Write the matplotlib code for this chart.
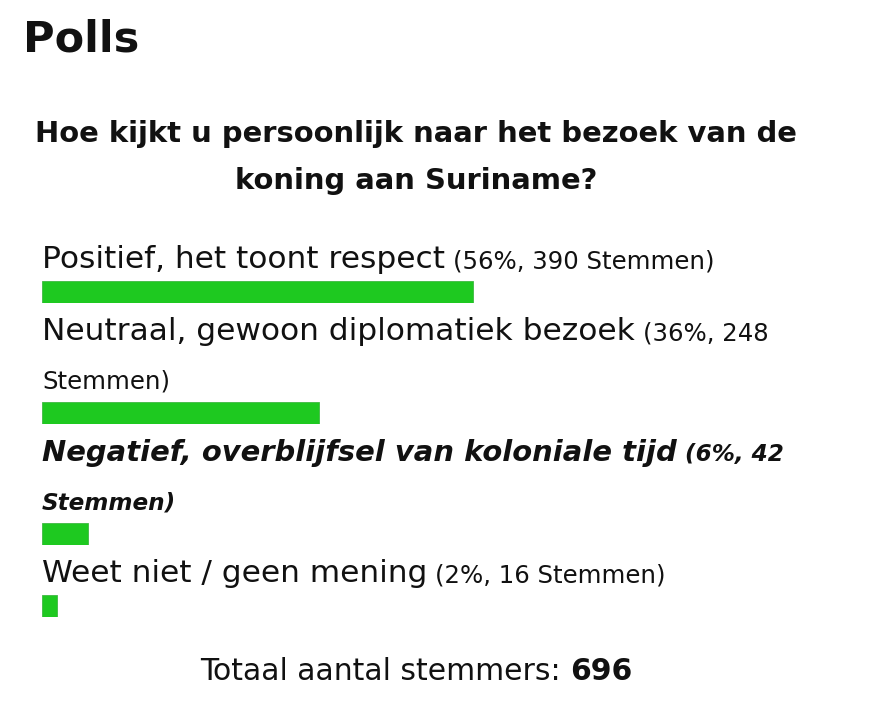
import matplotlib.pyplot as plt

# poll data
answers = ['Positief, het toont respect',
           'Neutraal, gewoon diplomatiek bezoek',
           'Negatief, overblijfsel van koloniale tijd',
           'Weet niet / geen mening']
percent = [56, 36, 6, 2]
votes = [390, 248, 42, 16]
total_voters = 696
question = ['Hoe kijkt u persoonlijk naar het bezoek van de',
            'koning aan Suriname?']
chosen = 2  # the answer shown in bold italic

W, H = 870, 711
FONT = 'DejaVu Sans'
GREEN = '#1ec920'
LEFT, RIGHT = 42, 812  # bar track in pixels

fig = plt.figure(figsize=(W / 100, H / 100), dpi=100)
fig.patch.set_facecolor('white')
renderer = fig.canvas.get_renderer()


def put(x, y, s, **kw):
    # x, y in pixels from top-left, y is the baseline
    return fig.text(x / W, 1 - y / H, s, va='baseline', family=FONT,
                    color='#111111', **kw)


def right_edge(t):
    return t.get_window_extent(renderer).x1


put(23, 52, 'Polls', fontsize=31, fontweight='bold')

for k, line in enumerate(question):
    put(416, 142 + 47 * k, line, ha='center', fontsize=20.9, fontweight='bold')

y = 268
for i, (answer, pct, n) in enumerate(zip(answers, percent, votes)):
    if i == chosen:
        style = dict(fontweight='bold', fontstyle='italic')
        size, small = 20.9, 16.7
    else:
        style = {}
        size, small = 22.5, 17.6
    lab = put(LEFT, y, answer, fontsize=size, **style)
    x = right_edge(lab) + 8
    words = f'({pct}%, {n} Stemmen)'.split(' ')
    # wrap the count like the web page does
    for k in range(len(words), 0, -1):
        part = put(x, y, ' '.join(words[:k]), fontsize=small, **style)
        if right_edge(part) <= RIGHT or k == 1:
            break
        part.remove()
    if k < len(words):
        y += 49
        put(LEFT, y, ' '.join(words[k:]), fontsize=small, **style)

    bar_top = y + 13
    ax = fig.add_axes([LEFT / W, 1 - (bar_top + 22) / H, (RIGHT - LEFT) / W, 22 / H])
    ax.barh(0, pct, height=1, left=0, color=GREEN, edgecolor='#3fb842',
            linewidth=0.6, align='center')
    ax.set_xlim(0, 100)
    ax.set_ylim(-0.5, 0.5)
    ax.axis('off')
    y = bar_top + 22 + 37

# total line, centred as a whole
a = put(0, 680, 'Totaal aantal stemmers: ', fontsize=21.5)
b = put(0, 680, str(total_voters), fontsize=21.5, fontweight='bold')
wa = a.get_window_extent(renderer).width
wb = b.get_window_extent(renderer).width
x0 = 416 - (wa + wb) / 2
a.set_x(x0 / W)
b.set_x((x0 + wa) / W)

fig.savefig('out.png', dpi=100, facecolor='white')
